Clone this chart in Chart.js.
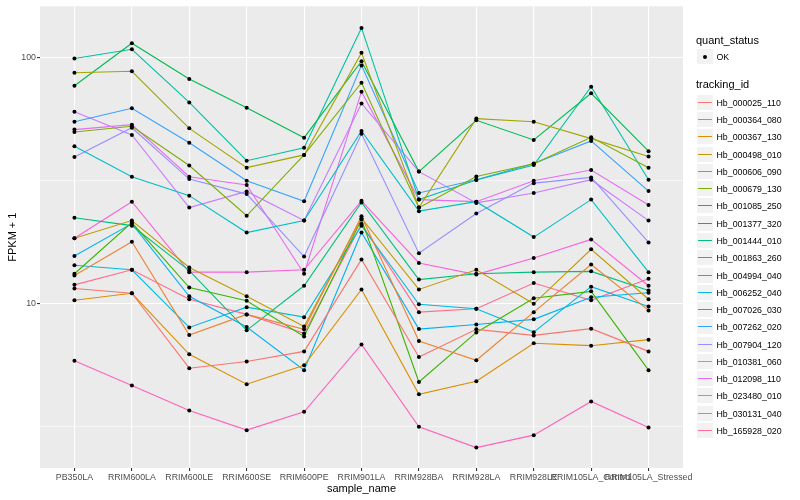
<!DOCTYPE html>
<html lang="en">
<head>
  <meta charset="UTF-8">
  <title>FPKM + 1 by sample</title>
  <script src="https://cdn.jsdelivr.net/npm/chart.js"></script>
  <style>
    body { margin: 0; background: #fff; font-family: "Liberation Sans", Arial, sans-serif; }
    #wrap { position: relative; width: 800px; height: 500px; }
    #legend { position: absolute; left: 0; top: 0; width: 800px; height: 500px; pointer-events: none; }
    .lg-title { position: absolute; left: 696px; font-size: 11px; line-height: 13px; color: #000; white-space: nowrap; }
    .lg-key { position: absolute; left: 697px; width: 16px; height: 15px; background: #f2f2f2; }
    .lg-line { position: absolute; left: 698px; width: 14px; height: 1px; }
    .lg-dot { position: absolute; width: 4px; height: 4px; border-radius: 50%; background: #000; }
    .lg-text { position: absolute; left: 716.5px; font-size: 8.8px; line-height: 10px; color: #000; white-space: nowrap; }
  </style>
</head>
<body>
<div id="wrap">
  <canvas id="fpkmChart"></canvas>
  <div id="legend"></div>
</div>
<script>
  // samples on the x axis
  const sampleNames = ['PB350LA', 'RRIM600LA', 'RRIM600LE', 'RRIM600SE', 'RRIM600PE', 'RRIM901LA',
    'RRIM928BA', 'RRIM928LA', 'RRIM928LE', 'RRIM105LA_Control', 'RRIM105LA_Stressed'];

  // y axis (log) ticks, only 10 and 100 get a label
  const yTicks = [3.1623, 10, 31.623, 100];
  const yTickLabels = ['', '10', '', '100'];

  // FPKM + 1 for each gene, one value per sample
  const hb000025_110 = [11.5, 11.0, 5.46, 5.81, 6.39, 15.1, 6.06, 7.85, 7.42, 7.90, 6.39];
  const hb000364_080 = [13.0, 17.8, 7.44, 9.03, 7.85, 22.6, 7.04, 5.88, 9.22, 14.4, 9.37];
  const hb000367_130 = [10.3, 11.0, 6.22, 4.70, 5.61, 11.4, 4.28, 4.83, 6.89, 6.74, 7.13];
  const hb000498_010 = [18.4, 21.7, 14.0, 10.7, 8.07, 22.2, 11.4, 13.7, 9.97, 16.6, 10.4];
  const hb000606_090 = [86.4, 87.6, 51.4, 35.6, 40.1, 104.1, 24.5, 56.3, 54.7, 46.7, 39.5];
  const hb000679_130 = [49.7, 52.4, 36.3, 22.7, 40.1, 78.7, 24.5, 32.8, 36.9, 47.3, 35.6];
  const hb001085_250 = [13.2, 21.3, 11.6, 10.25, 7.35, 21.9, 4.80, 7.63, 10.5, 11.2, 5.36];
  const hb001377_320 = [76.5, 113.9, 81.5, 62.3, 47.1, 96.3, 34.3, 55.4, 46.1, 71.3, 41.5];
  const hb001444_010 = [22.3, 20.7, 13.6, 7.78, 11.8, 25.7, 12.5, 13.2, 13.4, 13.5, 11.3];
  const hb001863_260 = [98.8, 107.7, 65.5, 38.0, 42.9, 131.4, 26.4, 31.7, 36.5, 75.8, 31.8];
  const hb004994_040 = [43.5, 32.7, 27.4, 19.4, 21.7, 50.2, 23.7, 25.9, 18.6, 26.4, 13.4];
  const hb006252_040 = [14.3, 13.7, 7.99, 9.66, 8.80, 20.7, 9.93, 9.52, 7.65, 11.7, 9.72];
  const hb007026_030 = [15.6, 21.1, 10.7, 8.02, 5.36, 19.4, 7.87, 8.22, 8.62, 10.6, 11.05];
  const hb007262_020 = [54.7, 62.0, 44.9, 31.5, 26.0, 92.6, 28.1, 31.8, 37.0, 45.7, 28.6];
  const hb007904_120 = [39.3, 51.7, 32.0, 27.8, 15.5, 48.9, 16.0, 23.2, 30.8, 32.5, 17.7];
  const hb010381_060 = [60.0, 48.3, 24.5, 28.5, 21.7, 64.9, 34.3, 25.6, 28.1, 31.8, 21.7];
  const hb012098_110 = [50.8, 53.2, 32.7, 30.3, 13.2, 72.4, 26.4, 25.9, 31.5, 34.8, 25.1];
  const hb023480_010 = [18.4, 25.9, 13.4, 13.4, 13.7, 26.1, 14.6, 13.1, 15.3, 18.2, 11.8];
  const hb030131_040 = [5.86, 4.64, 3.68, 3.06, 3.63, 6.82, 3.16, 2.60, 2.92, 4.00, 3.14];
  const hb165928_020 = [11.9, 13.7, 10.4, 9.03, 7.56, 21.0, 9.22, 9.52, 12.1, 10.3, 12.6];

  const trackingIds = ['Hb_000025_110', 'Hb_000364_080', 'Hb_000367_130', 'Hb_000498_010', 'Hb_000606_090',
    'Hb_000679_130', 'Hb_001085_250', 'Hb_001377_320', 'Hb_001444_010', 'Hb_001863_260', 'Hb_004994_040',
    'Hb_006252_040', 'Hb_007026_030', 'Hb_007262_020', 'Hb_007904_120', 'Hb_010381_060', 'Hb_012098_110',
    'Hb_023480_010', 'Hb_030131_040', 'Hb_165928_020'];
  const seriesValues = [hb000025_110, hb000364_080, hb000367_130, hb000498_010, hb000606_090,
    hb000679_130, hb001085_250, hb001377_320, hb001444_010, hb001863_260, hb004994_040,
    hb006252_040, hb007026_030, hb007262_020, hb007904_120, hb010381_060, hb012098_110,
    hb023480_010, hb030131_040, hb165928_020];
  // ggplot default hue palette, 20 levels
  const seriesColors = ['#F8766D', '#EA8331', '#D89000', '#C09B00', '#A3A500', '#7CAE00', '#39B600',
    '#00BB4E', '#00BF7D', '#00C1A3', '#00BFC4', '#00BAE0', '#00B0F6', '#35A2FF', '#9590FF', '#C77CFF',
    '#E76BF3', '#FA62DB', '#FF62BC', '#FF6C91'];

  Chart.defaults.font.family = '"Liberation Sans", Arial, sans-serif';

  const datasets = [];
  trackingIds.forEach((id, i) => {
    datasets.push({
      label: id,
      data: seriesValues[i].map((v, j) => ({ x: j, y: v })),
      borderColor: seriesColors[i],
      borderWidth: 1.1,
      pointRadius: 0,
      tension: 0,
      fill: false,
      order: 1
    });
  });
  // points layer on top of the lines (quant_status = OK)
  trackingIds.forEach((id, i) => {
    datasets.push({
      label: id + ' OK',
      data: seriesValues[i].map((v, j) => ({ x: j, y: v })),
      showLine: false,
      pointRadius: 2,
      pointBackgroundColor: '#000',
      pointBorderWidth: 0,
      order: 0
    });
  });

  const panelBg = {
    id: 'panelBg',
    beforeDraw(chart) {
      const { ctx, chartArea: a } = chart;
      ctx.save();
      ctx.fillStyle = '#EBEBEB';
      ctx.fillRect(a.left, a.top, a.right - a.left, a.bottom - a.top);
      ctx.restore();
    }
  };

  new Chart(document.getElementById('fpkmChart'), {
    type: 'line',
    data: { datasets },
    plugins: [panelBg],
    options: {
      responsive: true,
      maintainAspectRatio: false,
      animation: false,
      layout: { padding: { top: 5, right: 117, bottom: 0, left: 0 } },
      plugins: { legend: { display: false }, tooltip: { enabled: false } },
      scales: {
        x: {
          type: 'linear',
          min: -0.6,
          max: 10.6,
          afterBuildTicks: s => { s.ticks = sampleNames.map((_, i) => ({ value: i })); },
          afterFit: s => { s.height = 32; },
          ticks: {
            callback: v => sampleNames[v],
            autoSkip: false, maxRotation: 0, minRotation: 0,
            padding: 1, color: '#4D4D4D', font: { size: 8.8 }
          },
          grid: { color: '#fff', lineWidth: 1.1, tickColor: '#333', tickLength: 3 },
          border: { display: false },
          title: { display: true, text: 'sample_name', color: '#000', font: { size: 11 }, padding: { top: 0, bottom: 4 } }
        },
        y: {
          type: 'logarithmic',
          min: 2.148,
          max: 160.9,
          afterBuildTicks: s => { s.ticks = yTicks.map(v => ({ value: v })); },
          afterFit: s => { s.width = 40; },
          ticks: {
            callback: (v, i) => yTickLabels[i],
            padding: 1, color: '#4D4D4D', font: { size: 8.8 }
          },
          grid: {
            color: '#fff',
            lineWidth: c => (yTickLabels[c.index] ? 1.1 : 0.55),
            tickColor: c => (yTickLabels[c.index] ? '#333' : 'rgba(0,0,0,0)'),
            tickLength: 3
          },
          border: { display: false },
          title: { display: true, text: 'FPKM + 1', color: '#000', font: { size: 11 }, padding: { top: 6, bottom: 0 } }
        }
      }
    }
  });

  // legend, ggplot style
  const legend = document.getElementById('legend');
  function addEl(cls, top, text, extra) {
    const el = document.createElement('div');
    el.className = cls;
    el.style.top = top + 'px';
    if (text) el.textContent = text;
    if (extra) Object.assign(el.style, extra);
    legend.appendChild(el);
    return el;
  }
  addEl('lg-title', 34, 'quant_status');
  addEl('lg-key', 49);
  addEl('lg-dot', 55, null, { left: '703px' });
  addEl('lg-text', 52, 'OK');
  addEl('lg-title', 78, 'tracking_id');
  trackingIds.forEach((id, i) => {
    const cy = Math.round(101.7 + i * 17.28);
    addEl('lg-key', cy - 7);
    addEl('lg-line', cy, null, { background: seriesColors[i] });
    addEl('lg-text', cy - 4.5, id);
  });
</script>
</body>
</html>
